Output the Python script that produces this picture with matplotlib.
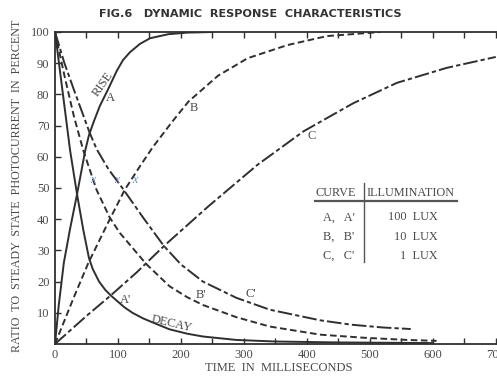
import matplotlib
matplotlib.use("Agg")
import matplotlib.pyplot as plt

# ---------------- data ----------------
# Rise curves (ms, percent)
rise_a_t = [0, 6, 14, 24, 35, 48, 54, 62, 71, 84, 98, 108, 119, 135, 151, 180, 210, 250]
rise_a_y = [0, 12.5, 26, 37, 48, 62, 67, 71.5, 76.2, 81.5, 87.5, 91, 93.5, 96.2, 98, 99.3, 99.8, 100]

rise_b_t = [0, 30, 53, 87, 111, 135, 155, 186, 212, 259, 306, 369, 432, 517]
rise_b_y = [0, 15, 26, 40, 49.5, 57, 63, 71.2, 77.7, 86, 91.6, 95.8, 98.7, 100]

rise_c_t = [0, 50, 87, 130, 173, 244, 322, 395, 474, 543, 622, 700]
rise_c_y = [0, 9, 15.3, 23, 31.4, 44.2, 57.5, 68.2, 77.2, 83.7, 88.5, 92]

# Decay curves
decay_a_t = [0, 12, 24, 35, 45, 54, 60, 70, 80, 90, 110, 123, 140, 160, 182, 210, 235, 288, 350, 450, 600]
decay_a_y = [100, 81, 62, 48, 36.5, 27.5, 24, 20, 17.3, 15.3, 11.8, 10, 8.2, 6.5, 4.7, 3.3, 2.4, 1.3, 0.8, 0.5, 0.3]

decay_b_t = [0, 15, 30, 45, 66, 87, 103, 145, 182, 210, 235, 288, 341, 421, 491, 560, 606]
decay_b_y = [100, 86, 73, 62, 49.4, 40.5, 35.6, 25.6, 18.5, 15, 12.5, 8.6, 5.6, 3, 2, 1.3, 1]

decay_c_t = [0, 15, 30, 54.5, 66, 85, 107, 140, 173, 200, 235, 288, 341, 421, 470, 520, 565]
decay_c_y = [100, 90, 81.5, 68, 62.5, 56, 50, 40.5, 31.4, 25.5, 20, 14.8, 11, 7.6, 6.2, 5.3, 4.8]

x_ticks = [0, 100, 200, 300, 400, 500, 600, 700]
y_ticks = [10, 20, 30, 40, 50, 60, 70, 80, 90, 100]

table_curves = ["A,   A'", "B,   B'", "C,   C'"]
table_lux = ["100  LUX", "10  LUX", "1  LUX"]

# ---------------- figure ----------------
W, H = 497, 378
fig = plt.figure(figsize=(W / 100, H / 100), dpi=100)
fig.patch.set_facecolor("white")

def fx(px):
    return px / W

def fy(py):
    return 1 - py / H

ax = fig.add_axes([fx(55), fy(344), fx(497) - fx(55), fy(32) - fy(344)])
ax.set_xlim(0, 702)
ax.set_ylim(0, 100)

LC = "#2f2f2f"
TC = "#4a4a4a"
SERIF = "Liberation Serif"
lw = 1.4

ax.plot(rise_a_t, rise_a_y, color=LC, lw=lw, solid_capstyle="round")
ax.plot(decay_a_t, decay_a_y, color=LC, lw=lw, solid_capstyle="round")
ax.plot(rise_b_t, rise_b_y, color=LC, lw=lw, linestyle=(0, (3.4, 1.8)))
ax.plot(decay_b_t, decay_b_y, color=LC, lw=lw, linestyle=(0, (3.4, 1.8)))
ax.plot(rise_c_t, rise_c_y, color=LC, lw=lw, linestyle=(0, (7.5, 1.6, 2.2, 1.6)))
ax.plot(decay_c_t, decay_c_y, color=LC, lw=lw, linestyle=(0, (7.5, 1.6, 2.2, 1.6)))

for s in ["left", "bottom", "top"]:
    ax.spines[s].set_color(LC)
    ax.spines[s].set_linewidth(1.3)
ax.spines["right"].set_visible(False)

ax.set_xticks(x_ticks)
ax.set_xticklabels([str(v) for v in x_ticks])
ax.set_xticks(range(50, 701, 100), minor=True)
ax.set_yticks(y_ticks)
ax.set_yticklabels([str(v) for v in y_ticks])
ax.tick_params(axis="x", which="both", direction="in", top=True, bottom=True,
               length=4, width=1.0, color=LC, pad=3.5)
ax.tick_params(axis="y", direction="in", left=True, right=False,
               length=4, width=1.0, color=LC, pad=4)
for lab in ax.get_xticklabels() + ax.get_yticklabels():
    lab.set_fontfamily(SERIF)
    lab.set_fontsize(9)
    lab.set_color(TC)

# curve labels
lab_kw = dict(fontfamily=SERIF, fontsize=9, color=TC, ha="center", va="center")
def dx(px):
    return (px - 55) / 0.63
def dy(py):
    return (344 - py) / 3.12

ax.text(dx(103), dy(84), "RISE", rotation=55, **lab_kw)
ax.text(dx(110), dy(98), "A", **lab_kw)
ax.text(dx(194), dy(108), "B", **lab_kw)
ax.text(dx(312), dy(136), "C", **lab_kw)
ax.text(dx(126), dy(300), "A'", **lab_kw)
ax.text(dx(201), dy(295), "B'", **lab_kw)
ax.text(dx(251), dy(294), "C'", **lab_kw)
ax.text(dx(172), dy(324), "DECAY", rotation=-13, **lab_kw)

# handwritten blue marks on the scan
for px in (93, 117, 135):
    ax.text(dx(px), dy(180), "x", fontfamily=SERIF, fontsize=8.5, color="#6f86d4",
            style="italic", ha="center", va="center")

# title and axis labels
fig.text(fx(250), fy(14), "FIG.6   DYNAMIC  RESPONSE  CHARACTERISTICS",
         fontfamily="DejaVu Sans", fontweight="heavy", fontsize=8.1,
         color="#333333", ha="center", va="center")
fig.text(fx(17), fy(186), "RATIO  TO  STEADY  STATE  PHOTOCURRENT  IN  PERCENT",
         fontfamily=SERIF, fontsize=8.7, color=TC, rotation=90,
         ha="center", va="center")
fig.text(fx(279), fy(368), "TIME  IN  MILLISECONDS", fontfamily=SERIF, fontsize=9,
         color=TC, ha="center", va="center")

# legend table
tkw = dict(fontfamily=SERIF, fontsize=8.8, color=TC, va="center")
fig.text(fx(316), fy(192.5), "CURVE", ha="left", **tkw)
fig.text(fx(367), fy(192.5), "ILLUMINATION", ha="left", **tkw)
fig.add_artist(plt.Line2D([fx(315), fx(457)], [fy(200.5), fy(200.5)],
                          color="#555555", lw=1.6))
fig.add_artist(plt.Line2D([fx(363.5), fx(363.5)], [fy(183), fy(262)],
                          color="#555555", lw=1.0))
for i, (c, l) in enumerate(zip(table_curves, table_lux)):
    yy = fy(217.5 + i * 19.2)
    fig.text(fx(323), yy, c, ha="left", **tkw)
    fig.text(fx(438), yy, l, ha="right", **tkw)

fig.savefig("out.png", dpi=100)
